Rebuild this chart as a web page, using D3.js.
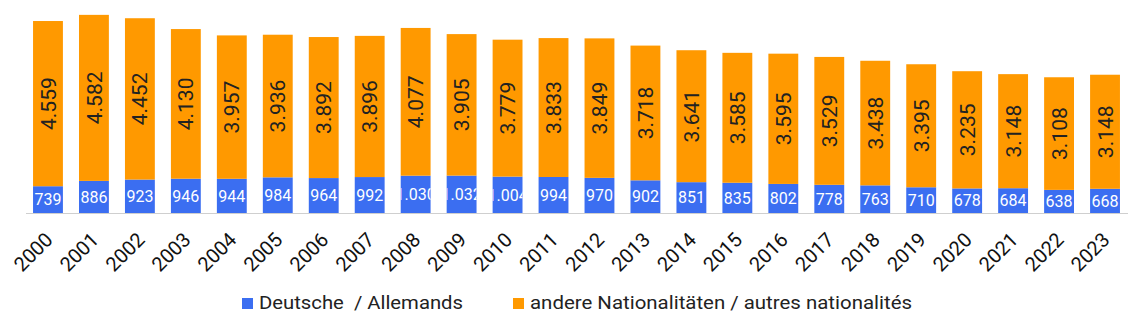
<!DOCTYPE html>
<html>
<head>
<meta charset="utf-8">
<script src="https://cdn.jsdelivr.net/npm/d3@7"></script>
<style>
  html, body { margin: 0; padding: 0; background: #fff; }
  svg { display: block; font-family: Roboto, "Noto Sans", sans-serif; }
</style>
</head>
<body>
<svg id="chart" width="1140" height="330"></svg>
<script>
const years = ["2000","2001","2002","2003","2004","2005","2006","2007","2008","2009","2010","2011","2012","2013","2014","2015","2016","2017","2018","2019","2020","2021","2022","2023"];
const deutsche = [739, 886, 923, 946, 944, 984, 964, 992, 1030, 1032, 1004, 994, 970, 902, 851, 835, 802, 778, 763, 710, 678, 684, 638, 668];
const andere = [4559, 4582, 4452, 4130, 3957, 3936, 3892, 3896, 4077, 3905, 3779, 3833, 3849, 3718, 3641, 3585, 3595, 3529, 3438, 3395, 3235, 3148, 3108, 3148];
const seriesNames = ["Deutsche  / Allemands", "andere Nationalitäten / autres nationalités"];
const seriesColors = ["#3b6ef1", "#ff9900"];

const svg = d3.select("#chart");
const baseY = 213;
const x = d3.scaleBand().domain(years).range([25, 1128]).paddingInner(0.35).paddingOuter(0.175);
const y = d3.scaleLinear().domain([0, 5500]).range([baseY, 13.7]);
const loc = d3.formatLocale({decimal: ",", thousands: ".", grouping: [3], currency: ["", "€"]});
const fmt = loc.format(",d");

const data = years.map((yr, i) => ({year: yr, d: deutsche[i], a: andere[i]}));

// baseline
svg.append("line")
  .attr("x1", 26).attr("x2", 1128)
  .attr("y1", baseY + 0.5).attr("y2", baseY + 0.5)
  .attr("stroke", "#cfcfcf").attr("stroke-width", 1);

const defs = svg.append("defs");
data.forEach((r, i) => {
  defs.append("clipPath").attr("id", "clip" + i)
    .append("rect")
    .attr("x", x(r.year)).attr("width", x.bandwidth())
    .attr("y", y(r.d)).attr("height", y(0) - y(r.d));
});

const g = svg.append("g");
// blue segments
g.selectAll("rect.d").data(data).join("rect").attr("class", "d")
  .attr("x", r => x(r.year)).attr("width", x.bandwidth())
  .attr("y", r => y(r.d)).attr("height", r => y(0) - y(r.d))
  .attr("fill", seriesColors[0]);
// orange segments
g.selectAll("rect.a").data(data).join("rect").attr("class", "a")
  .attr("x", r => x(r.year)).attr("width", x.bandwidth())
  .attr("y", r => y(r.d + r.a)).attr("height", r => y(r.d) - y(r.d + r.a))
  .attr("fill", seriesColors[1]);

// blue labels
g.selectAll("text.dl").data(data).join("text").attr("class", "dl")
  .attr("clip-path", (r, i) => `url(#clip${i})`)
  .attr("x", r => x(r.year) + x.bandwidth() / 2)
  .attr("y", r => (y(r.d) + y(0)) / 2)
  .attr("dy", "0.36em")
  .attr("text-anchor", "middle")
  .attr("font-size", 16)
  .attr("fill", "#fff")
  .text(r => fmt(r.d));

// orange labels
g.selectAll("text.al").data(data).join("text").attr("class", "al")
  .attr("transform", r => `translate(${x(r.year) + x.bandwidth() / 2},${(y(r.d) + y(r.d + r.a)) / 2}) rotate(-90)`)
  .attr("dy", "0.36em")
  .attr("text-anchor", "middle")
  .attr("font-size", 21)
  .attr("fill", "#222")
  .text(r => fmt(r.a));

// x axis
const ax = svg.append("g").attr("transform", `translate(0,${baseY})`)
  .call(d3.axisBottom(x).tickSize(0).tickPadding(0));
ax.select(".domain").remove();
ax.selectAll("text")
  .attr("x", 0).attr("y", 0).attr("dy", 0)
  .attr("text-anchor", "end")
  .attr("transform", "translate(6,28) rotate(-45)")
  .attr("font-size", 20)
  .attr("font-family", "Roboto, sans-serif")
  .attr("fill", "#111");

// legend
const legendItems = [
  {x: 242, name: seriesNames[0], color: seriesColors[0], w: 204},
  {x: 513, name: seriesNames[1], color: seriesColors[1], w: 382}
];
const lg = svg.append("g");
legendItems.forEach(it => {
  lg.append("rect").attr("x", it.x).attr("y", 298).attr("width", 11).attr("height", 11).attr("fill", it.color);
  lg.append("text").attr("x", it.x + 17).attr("y", 308.5)
    .attr("font-size", 18.5).attr("fill", "#222")
    .attr("textLength", it.w)
    .attr("lengthAdjust", "spacingAndGlyphs")
    .style("white-space", "pre")
    .text(it.name);
});
</script>
</body>
</html>
